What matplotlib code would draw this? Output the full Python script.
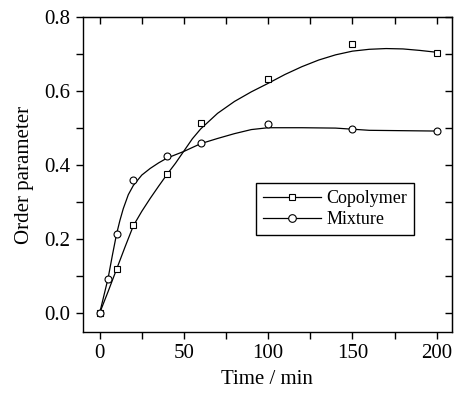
import numpy as np
import matplotlib
matplotlib.use("Agg")
import matplotlib.pyplot as plt
from matplotlib.ticker import MultipleLocator

plt.rcParams['font.family'] = ['Liberation Serif', 'DejaVu Serif']

# measured points
t_co = [0, 10, 20, 40, 60, 100, 150, 200]
op_co = [0.0, 0.119, 0.238, 0.375, 0.513, 0.634, 0.728, 0.703]
t_mix = [0, 5, 10, 20, 40, 60, 100, 150, 200]
op_mix = [0.0, 0.093, 0.213, 0.359, 0.424, 0.459, 0.511, 0.497, 0.492]

# smooth guide curves
fit_t_co = [0, 5, 10, 15, 20, 25, 30, 35, 40, 45, 50, 55, 60, 70, 80, 90,
            100, 110, 120, 130, 140, 150, 160, 170, 180, 190, 200]
fit_co = [0.0, 0.058, 0.118, 0.178, 0.236, 0.275, 0.31, 0.343, 0.375, 0.405,
          0.438, 0.471, 0.498, 0.540, 0.572, 0.598, 0.621, 0.645, 0.666,
          0.684, 0.698, 0.708, 0.713, 0.715, 0.714, 0.710, 0.705]
fit_t_mix = [0, 2.5, 5, 7.5, 10, 12, 14, 17, 20, 25, 30, 35, 40, 50, 60, 70,
             80, 90, 100, 120, 140, 150, 160, 180, 200]
fit_mix = [0.0, 0.047, 0.094, 0.155, 0.213, 0.250, 0.282, 0.320, 0.345,
           0.373, 0.391, 0.406, 0.419, 0.437, 0.458, 0.472, 0.485, 0.496,
           0.501, 0.501, 0.500, 0.497, 0.494, 0.493, 0.492]

fig = plt.figure(figsize=(4.55, 3.98), dpi=100)
ax = fig.add_axes([0.182, 0.166, 0.811, 0.791])

lw = 0.9
ax.plot(fit_t_co, fit_co, color='black', lw=lw)
ax.plot(fit_t_mix, fit_mix, color='black', lw=lw)
ax.plot(t_co, op_co, ls='none', marker='s', ms=4.3, mfc='white', mec='black', mew=0.8)
ax.plot(t_mix, op_mix, ls='none', marker='o', ms=5, mfc='white', mec='black', mew=0.8)

# legend proxies
ax.plot([], [], color='black', lw=lw, marker='s', ms=4.3, mfc='white', mew=0.8, label='Copolymer')
ax.plot([], [], color='black', lw=lw, marker='o', ms=5.5, mfc='white', mew=0.8, label='Mixture')
leg = ax.legend(loc='upper left', bbox_to_anchor=(0.469, 0.473), borderaxespad=0,
                fancybox=False, edgecolor='black', framealpha=1, fontsize=13,
                handlelength=3.2, handletextpad=0.3, borderpad=0.4, labelspacing=0.2)
leg.get_frame().set_linewidth(1.0)

ax.set_xlim(-10, 209)
ax.set_ylim(-0.051, 0.8)
ax.xaxis.set_major_locator(MultipleLocator(50))
ax.xaxis.set_minor_locator(MultipleLocator(25))
ax.yaxis.set_minor_locator(MultipleLocator(0.1))
ax.set_yticks([0.0, 0.2, 0.4, 0.6, 0.8])
ax.set_yticklabels(['0.0', '0.2', '0.4', '0.6', '0.8'])
ax.tick_params(which='both', direction='out', length=5, width=1, labelsize=15, pad=4)
for s in ax.spines.values():
    s.set_linewidth(1.0)

top = ax.secondary_xaxis('top')
top.xaxis.set_major_locator(MultipleLocator(25))
top.tick_params(direction='in', length=5, width=1, labeltop=False)
right = ax.secondary_yaxis('right')
right.yaxis.set_major_locator(MultipleLocator(0.1))
right.tick_params(direction='in', length=5, width=1, labelright=False)

ax.set_xlabel('Time / min', fontsize=15, labelpad=5)
ax.set_ylabel('Order parameter', fontsize=15, labelpad=7)

fig.savefig('out.png', dpi=100)
